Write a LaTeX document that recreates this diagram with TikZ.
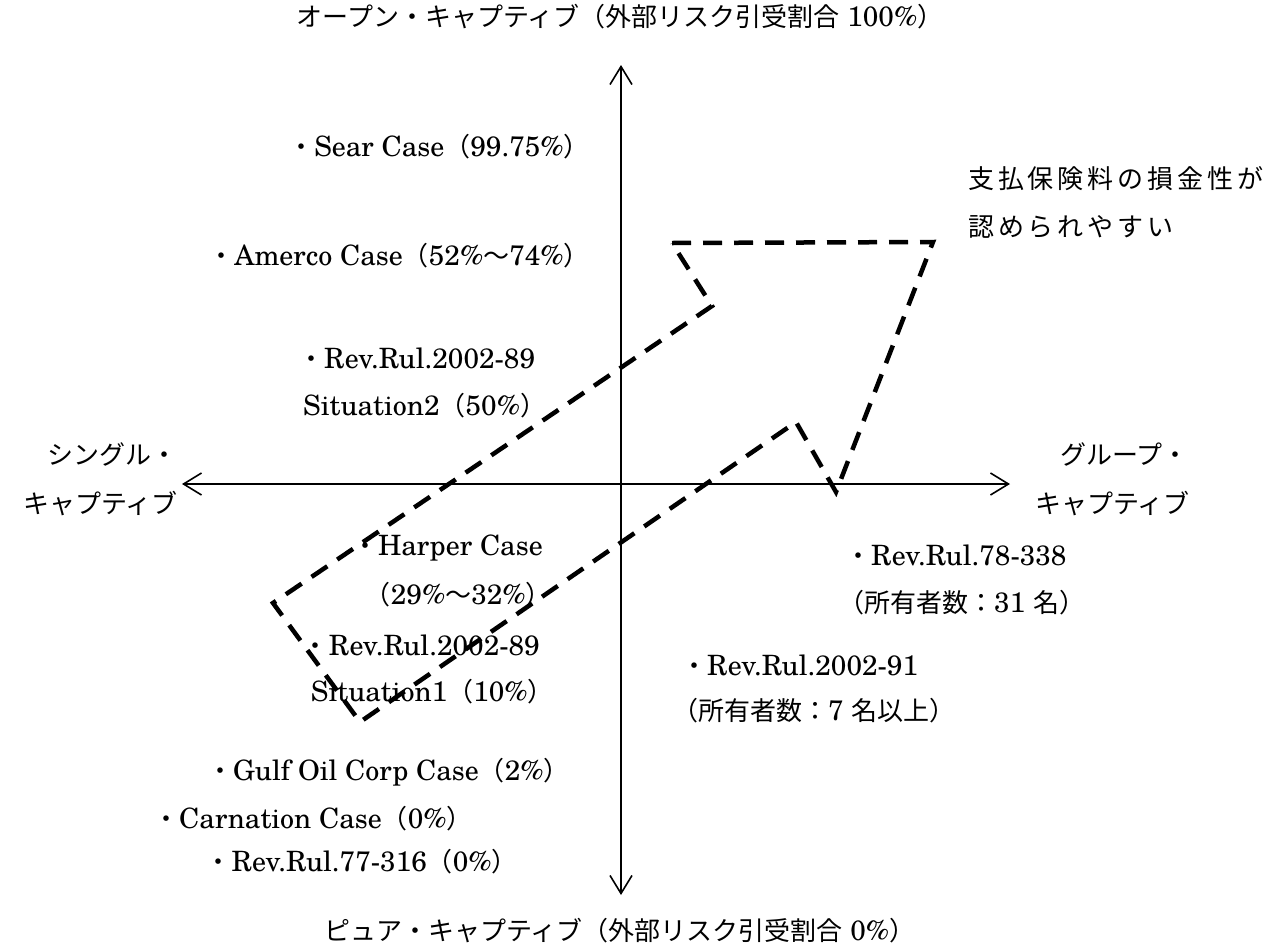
\documentclass[tikz,border=0pt]{standalone}
\usepackage{fontspec}
\setmainfont{TeX Gyre Schola}
\newfontfamily\jpfont{Noto Sans CJK JP}
\newfontfamily\jpsp[LetterSpace=15]{Noto Sans CJK JP}
\usetikzlibrary{arrows.meta}
\newcommand\J[1]{{\jpfont\fontsize{26}{31}\selectfont #1}}
\begin{document}
\begin{tikzpicture}[x=1pt,y=-1pt,
  lbl/.style={inner sep=0pt, font=\fontsize{28}{33}\selectfont, text height=21pt, text depth=5pt},
  axis/.style={line width=1.6pt, {Straight Barb[length=18pt,width=22pt]}-{Straight Barb[length=18pt,width=22pt]}},
  zone/.style={line width=4.5pt, dash pattern=on 19pt off 12pt}]
\useasboundingbox (0,0) rectangle (1286,951);
\fill[white] (0,0) rectangle (1286,951);
% axes
\coordinate (top) at (621,65);
\coordinate (bot) at (621,895);
\coordinate (lft) at (182,484);
\coordinate (rgt) at (1010,484);
\draw[axis] (bot) -- (top);
\draw[axis] (lft) -- (rgt);
% dashed zone arrow
\coordinate (p1) at (672,243);
\coordinate (p2) at (933,242);
\coordinate (p3) at (836,492);
\coordinate (p4) at (796,422);
\coordinate (p5) at (360,722);
\coordinate (p6) at (273,603);
\coordinate (p7) at (712,306);
\draw[zone] (p1) -- (p2) -- (p3) -- (p4) -- (p5) -- (p6) -- (p7) -- cycle;
% labels
\node[lbl] (title) at (620,18) {\J{オープン・キャプティブ（外部リスク引受割合} 100\%\J{）}};
\node[lbl] (bottitle) at (620,932) {\J{ピュア・キャプティブ（外部リスク引受割合} 0\%\J{）}};
\node[lbl,anchor=east] (single1) at (178,456) {\J{シングル・}};
\node[lbl,anchor=east] (single2) at (178,505) {\J{キャプティブ}};
\node[lbl,anchor=west] (group1) at (1060,456) {\J{グループ・}};
\node[lbl,anchor=west] (group2) at (1035,505) {\J{キャプティブ}};
\node[lbl,anchor=east] (sear) at (590,148) {\J{・}Sear Case\J{（}99.75\%\J{）}};
\node[lbl,anchor=east] (amerco) at (590,257) {\J{・}Amerco Case\J{（}52\%\J{～}74\%\J{）}};
\node[lbl,anchor=west] (rr89a) at (298,360) {\J{・}Rev.Rul.2002-89};
\node[lbl,anchor=west] (sit2) at (303,407) {Situation2\J{（}50\%\J{）}};
\node[lbl,anchor=east] (harper) at (543,547) {\J{・}Harper Case};
\node[lbl,anchor=east] (harperp) at (552,596) {\J{（}29\%\J{～}32\%\J{）}};
\node[lbl,anchor=east] (rr89b) at (540,647) {\J{・}Rev.Rul.2002-89};
\node[lbl,anchor=east] (sit1) at (554,693) {Situation1\J{（}10\%\J{）}};
\node[lbl,anchor=west] (rr78) at (845,557) {\J{・}Rev.Rul.78-338};
\node[lbl,anchor=west] (own31) at (838,604) {\J{（所有者数：}31 \J{名）}};
\node[lbl,anchor=west] (rr91) at (681,667) {\J{・}Rev.Rul.2002-91};
\node[lbl,anchor=west] (own7) at (672,712) {\J{（所有者数：}7 \J{名以上）}};
\node[lbl,anchor=west] (shiharai1) at (968,180) {\jpsp\fontsize{26}{31}\selectfont 支払保険料の損金性が};
\node[lbl,anchor=west] (shiharai2) at (968,228) {\jpsp\fontsize{26}{31}\selectfont 認められやすい};
\node[lbl,anchor=east] (gulf) at (570,772) {\J{・}Gulf Oil Corp Case\J{（}2\%\J{）}};
\node[lbl,anchor=east] (carn) at (473,820) {\J{・}Carnation Case\J{（}0\%\J{）}};
\node[lbl,anchor=east] (rr77) at (518,863) {\J{・}Rev.Rul.77-316\J{（}0\%\J{）}};
\end{tikzpicture}
\end{document}
